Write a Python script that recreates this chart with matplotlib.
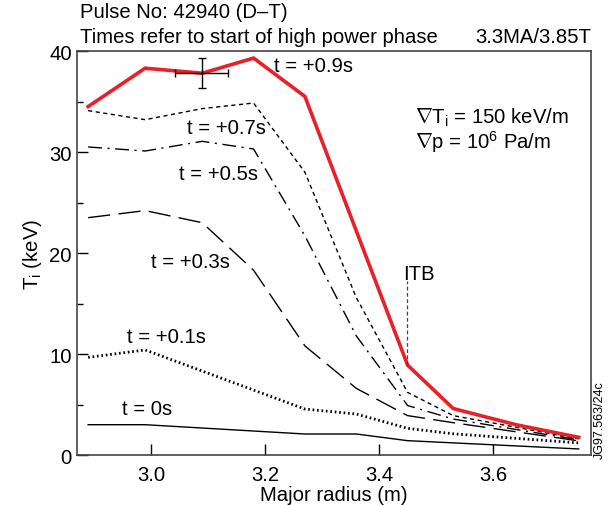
import matplotlib
matplotlib.use("Agg")
import matplotlib.pyplot as plt

plt.rcParams['font.family'] = ['Liberation Sans', 'DejaVu Sans']
plt.rcParams['mathtext.fontset'] = 'custom'
plt.rcParams['mathtext.rm'] = 'Liberation Sans'
plt.rcParams['mathtext.it'] = 'Liberation Sans'

# ---- data (major radius in m, ion temperature in keV) ----
r_09 = [2.89, 2.99, 3.09, 3.18, 3.27, 3.45, 3.53, 3.64, 3.75]
t_09 = [34.5, 38.3, 37.8, 39.3, 35.5, 8.9, 4.6, 3.0, 1.75]

r_07 = [2.89, 2.99, 3.09, 3.18, 3.27, 3.36, 3.45, 3.53, 3.75]
t_07 = [34.1, 33.2, 34.3, 34.85, 28.0, 15.6, 6.2, 3.9, 1.6]

r_05 = [2.89, 2.99, 3.09, 3.18, 3.27, 3.36, 3.45, 3.53, 3.75]
t_05 = [30.5, 30.1, 31.06, 30.3, 21.7, 11.8, 4.9, 3.56, 1.5]

r_03 = [2.89, 2.99, 3.09, 3.18, 3.27, 3.36, 3.45, 3.53, 3.75]
t_03 = [23.5, 24.2, 23.0, 18.3, 10.8, 6.6, 3.9, 3.2, 1.4]

r_01 = [2.89, 2.99, 3.27, 3.36, 3.45, 3.53, 3.75]
t_01 = [9.67, 10.4, 4.55, 4.06, 2.64, 2.1, 1.2]

r_00 = [2.89, 2.99, 3.27, 3.36, 3.45, 3.75]
t_00 = [3.0, 3.0, 2.08, 2.08, 1.42, 0.6]

err_r, err_t = 3.089, 37.8
err_dr, err_dt = 0.047, 1.5

itb_r = 3.449
itb_t = 8.9

labels = ["t = +0.9s", "t = +0.7s", "t = +0.5s", "t = +0.3s", "t = +0.1s", "t = 0s"]
label_pos = [(3.216, 38.6), (3.063, 32.4), (3.050, 27.9), (3.000, 19.2), (2.959, 11.7), (2.949, 4.6)]

xticks = [3.0, 3.2, 3.4, 3.6]
xticklabels = ["3.0", "3.2", "3.4", "3.6"]
yticks = [0, 10, 20, 30, 40]

# ---- figure ----
fig = plt.figure(figsize=(6.11, 5.06), dpi=100)
ax = fig.add_axes([0.1265, 0.0988, 0.8403, 0.7984])

FS = 14.6
red = '#e8202a'
ax.plot(r_00, t_00, color='black', lw=1.0, solid_joinstyle='miter')
ax.plot(r_01, t_01, color='black', lw=2.0, linestyle=(0, (0.6, 1.0)))
ax.plot(r_03, t_03, color='black', lw=1.0, linestyle=(0, (16, 6)))
ax.plot(r_05, t_05, color='black', lw=1.0, linestyle=(0, (10, 4, 1.5, 4)))
ax.plot(r_07, t_07, color='black', lw=1.0, linestyle=(0, (3, 2.5)))
ax.plot(r_09, t_09, color=red, lw=2.6, solid_joinstyle='miter')

ax.errorbar([err_r], [err_t], xerr=[err_dr], yerr=[err_dt], fmt='none',
            ecolor='black', elinewidth=1.0, capsize=3, capthick=1.0)

# ITB marker
ax.plot([itb_r, itb_r], [itb_t, 17.2], color='#444444', lw=0.9, linestyle=(0, (3, 2)))
ax.text(itb_r - 0.006, 17.0, "ITB", fontsize=FS, ha='left', va='bottom')

for lab, (x, y) in zip(labels, label_pos):
    ax.text(x, y, lab, fontsize=FS, ha='left', va='center')

ax.text(0.658, 0.837, r"$\nabla$T$_\mathrm{i}$ = 150 keV/m", transform=ax.transAxes,
        fontsize=FS, ha='left', va='center')
ax.text(0.658, 0.777, r"$\nabla$p = 10$^6$ Pa/m", transform=ax.transAxes,
        fontsize=FS, ha='left', va='center')

ax.set_xlim(2.871, 3.771)
ax.set_ylim(0, 40)
ax.set_xticks(xticks)
ax.set_xticklabels(xticklabels)
ax.set_yticks(yticks)
ax.set_yticks([5, 15, 25, 35], minor=True)
ax.tick_params(axis='both', which='major', direction='in', length=8, width=1.0,
               labelsize=FS, colors='black', pad=4)
ax.tick_params(axis='x', which='major', pad=7)
ax.tick_params(axis='y', which='minor', direction='in', length=4, width=1.0)
for s in ax.spines.values():
    s.set_color('#444444')
    s.set_linewidth(1.2)

ax.set_xlabel("Major radius (m)", fontsize=FS, labelpad=1)
ax.set_ylabel(r"T$_\mathrm{i}$ (keV)", fontsize=FS, labelpad=4)

fig.text(0.131, 0.975, "Pulse No: 42940 (D–T)", fontsize=FS, ha='left', va='center')
fig.text(0.131, 0.925, "Times refer to start of high power phase", fontsize=FS,
         ha='left', va='center')
fig.text(0.967, 0.925, "3.3MA/3.85T", fontsize=FS, ha='right', va='center')
fig.text(0.982, 0.17, "JG97.563/24c", fontsize=9, rotation=90, ha='center', va='center')

fig.savefig("out.png", dpi=100)
